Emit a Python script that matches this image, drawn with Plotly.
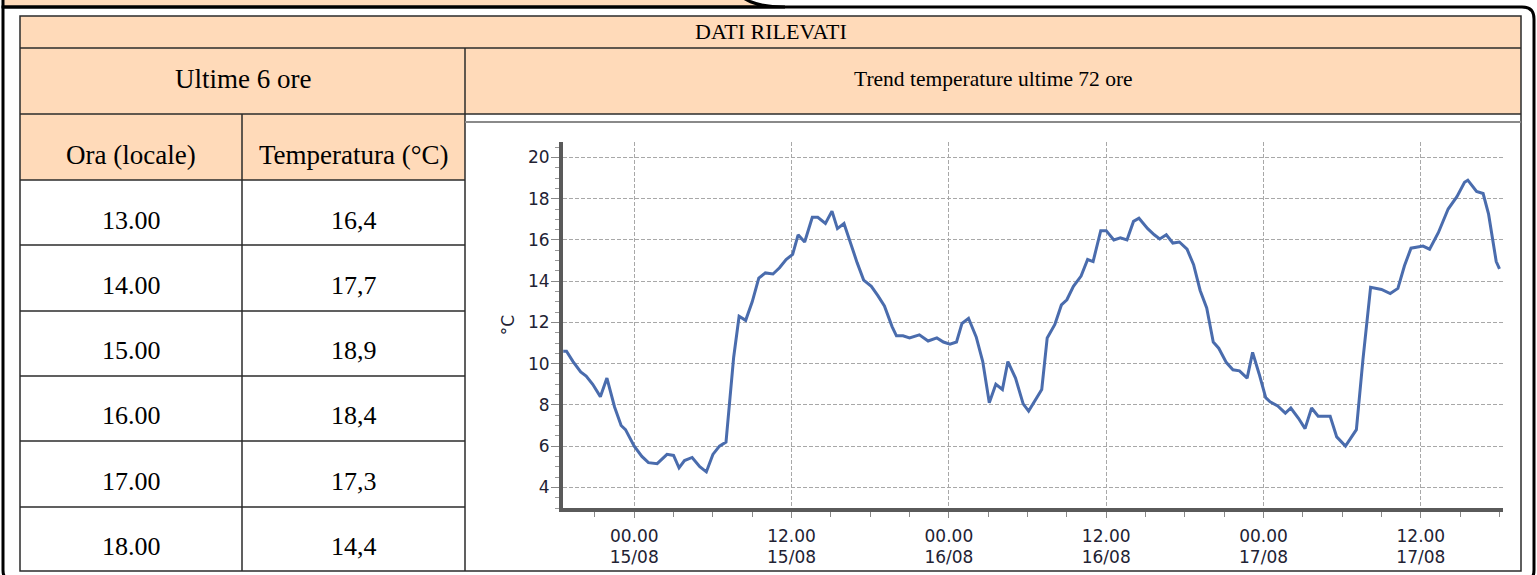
import plotly.graph_objects as go

# ---------------- data ----------------
hours_local = ["13.00", "14.00", "15.00", "16.00", "17.00", "18.00"]
temps_local = ["16,4", "17,7", "18,9", "18,4", "17,3", "14,4"]

times = [
    "2023-08-14 18:35", "2023-08-14 18:50", "2023-08-14 19:20", "2023-08-14 19:55", "2023-08-14 20:20",
    "2023-08-14 20:50", "2023-08-14 21:25", "2023-08-14 21:55", "2023-08-14 22:30", "2023-08-14 23:00",
    "2023-08-14 23:20", "2023-08-15 00:00", "2023-08-15 00:35", "2023-08-15 01:05", "2023-08-15 01:45",
    "2023-08-15 02:05", "2023-08-15 02:30", "2023-08-15 03:00", "2023-08-15 03:25", "2023-08-15 03:50",
    "2023-08-15 04:25", "2023-08-15 05:00", "2023-08-15 05:30", "2023-08-15 06:00", "2023-08-15 06:30",
    "2023-08-15 07:00", "2023-08-15 07:20", "2023-08-15 07:35", "2023-08-15 08:00", "2023-08-15 08:30",
    "2023-08-15 09:00", "2023-08-15 09:30", "2023-08-15 10:00", "2023-08-15 10:35", "2023-08-15 11:05",
    "2023-08-15 11:35", "2023-08-15 12:05", "2023-08-15 12:30", "2023-08-15 13:00", "2023-08-15 13:35",
    "2023-08-15 14:00", "2023-08-15 14:35", "2023-08-15 15:05", "2023-08-15 15:30", "2023-08-15 16:00",
    "2023-08-15 16:30", "2023-08-15 17:00", "2023-08-15 17:30", "2023-08-15 18:05", "2023-08-15 18:35",
    "2023-08-15 19:05", "2023-08-15 19:40", "2023-08-15 20:00", "2023-08-15 20:30", "2023-08-15 21:00",
    "2023-08-15 21:45", "2023-08-15 22:25", "2023-08-15 23:05", "2023-08-15 23:35", "2023-08-16 00:05",
    "2023-08-16 00:35", "2023-08-16 01:00", "2023-08-16 01:30", "2023-08-16 02:05", "2023-08-16 02:35",
    "2023-08-16 03:05", "2023-08-16 03:35", "2023-08-16 04:05", "2023-08-16 04:30", "2023-08-16 05:05",
    "2023-08-16 05:40", "2023-08-16 06:05", "2023-08-16 06:35", "2023-08-16 07:05", "2023-08-16 07:30",
    "2023-08-16 08:05", "2023-08-16 08:35", "2023-08-16 09:00", "2023-08-16 09:30", "2023-08-16 10:05",
    "2023-08-16 10:35", "2023-08-16 11:00", "2023-08-16 11:35", "2023-08-16 12:00", "2023-08-16 12:35",
    "2023-08-16 13:05", "2023-08-16 13:35", "2023-08-16 14:05", "2023-08-16 14:30", "2023-08-16 15:10",
    "2023-08-16 15:40", "2023-08-16 16:05", "2023-08-16 16:35", "2023-08-16 17:05", "2023-08-16 17:35",
    "2023-08-16 18:10", "2023-08-16 18:40", "2023-08-16 19:10", "2023-08-16 19:40", "2023-08-16 20:10",
    "2023-08-16 20:35", "2023-08-16 21:10", "2023-08-16 21:40", "2023-08-16 22:10", "2023-08-16 22:45",
    "2023-08-16 23:10", "2023-08-16 23:40", "2023-08-17 00:10", "2023-08-17 00:30", "2023-08-17 01:05",
    "2023-08-17 01:40", "2023-08-17 02:05", "2023-08-17 02:40", "2023-08-17 03:10", "2023-08-17 03:40",
    "2023-08-17 04:10", "2023-08-17 05:05", "2023-08-17 05:35", "2023-08-17 06:15", "2023-08-17 07:05",
    "2023-08-17 07:35", "2023-08-17 08:10", "2023-08-17 09:00", "2023-08-17 09:40", "2023-08-17 10:15",
    "2023-08-17 10:45", "2023-08-17 11:15", "2023-08-17 11:55", "2023-08-17 12:10", "2023-08-17 12:40",
    "2023-08-17 13:20", "2023-08-17 14:05", "2023-08-17 14:45", "2023-08-17 15:20", "2023-08-17 15:35",
    "2023-08-17 16:15", "2023-08-17 16:45", "2023-08-17 17:10", "2023-08-17 17:45", "2023-08-17 18:00",
]
temps = [
    10.6, 10.6, 10.1, 9.6, 9.4,
    9.0, 8.4, 9.3, 7.9, 7.0,
    6.8, 6.0, 5.5, 5.2, 5.15,
    5.35, 5.6, 5.55, 4.95, 5.3,
    5.45, 5.0, 4.75, 5.6, 6.0,
    6.2, 8.7, 10.3, 12.3, 12.1,
    13.0, 14.15, 14.4, 14.35, 14.65,
    15.05, 15.3, 16.25, 15.9, 17.1,
    17.1, 16.8, 17.4, 16.55, 16.8,
    15.8, 14.9, 14.05, 13.75, 13.3,
    12.8, 11.8, 11.35, 11.35, 11.25,
    11.4, 11.1, 11.25, 11.05, 10.95,
    11.05, 11.95, 12.2, 11.3, 10.1,
    8.1, 9.0, 8.75, 10.1, 9.3,
    8.05, 7.7, 8.2, 8.75, 11.25,
    11.9, 12.85, 13.1, 13.75, 14.25,
    15.05, 14.95, 16.45, 16.45, 16.0,
    16.1, 16.0, 16.9, 17.05, 16.55,
    16.25, 16.05, 16.25, 15.85, 15.9,
    15.55, 14.8, 13.55, 12.7, 11.05,
    10.75, 10.05, 9.7, 9.65, 9.3,
    10.55, 9.5, 8.35, 8.15, 7.95,
    7.6, 7.85, 7.35, 6.85, 7.85,
    7.45, 7.45, 6.45, 6.0, 6.8,
    10.2, 13.7, 13.6, 13.4, 13.65,
    14.75, 15.6, 15.65, 15.7, 15.55,
    16.35, 17.5, 18.1, 18.8, 18.9,
    18.35, 18.25, 17.25, 14.95, 14.6,
]

# ---------------- geometry helpers (pixel -> paper) ----------------
W, H = 1537, 575
def X(px):
    return px / W
def Y(py):
    return 1 - py / H

PEACH = "#FFDAB9"
LINE = "#2b2b2b"
SERIF = "Liberation Serif, Times New Roman, serif"

shapes = []
annotations = []

def rect(x0, y0, x1, y1, fill=None, color=None, width=0, layer="below"):
    d = dict(type="rect", xref="paper", yref="paper",
             x0=X(x0), x1=X(x1), y0=Y(y1), y1=Y(y0), layer=layer,
             line=dict(width=width, color=color or "rgba(0,0,0,0)"))
    if fill:
        d["fillcolor"] = fill
    shapes.append(d)

def hline(x0, x1, y, color=LINE, width=1.5):
    shapes.append(dict(type="line", xref="paper", yref="paper",
                       x0=X(x0), x1=X(x1), y0=Y(y), y1=Y(y),
                       line=dict(color=color, width=width)))

def vline(x, y0, y1, color=LINE, width=1.5):
    shapes.append(dict(type="line", xref="paper", yref="paper",
                       x0=X(x), x1=X(x), y0=Y(y0), y1=Y(y1),
                       line=dict(color=color, width=width)))

def P(x, y):
    return f"{X(x):.5f},{Y(y):.5f}"

# top tab (peach) above the frame
shapes.append(dict(type="path", xref="paper", yref="paper", layer="below",
                   path=f"M {P(3,-20)} L {P(3,7)} L {P(785,7)} C {P(755,7)} {P(745,2)} {P(720,-20)} Z",
                   fillcolor=PEACH, line=dict(color="black", width=3)))
# outer rounded frame
r = 12
shapes.append(dict(type="path", xref="paper", yref="paper",
                   path=(f"M {P(3,7)} L {P(1534-r,7)} Q {P(1534,7)} {P(1534,7+r)} "
                         f"L {P(1534,582-r)} Q {P(1534,582)} {P(1534-r,582)} "
                         f"L {P(3+r,582)} Q {P(3,582)} {P(3,582-r)} Z"),
                   line=dict(color="black", width=3)))

# table geometry
TL, TR, TM, TC = 20, 1521, 465, 242
TT = 16
R1, R2, R3 = 48, 114, 180
row_edges = [180, 245, 311, 376, 441, 507, 571]
TB = 571

rect(TL, TT, TR, R1, fill=PEACH)
rect(TL, R1, TR, R2, fill=PEACH)
rect(TL, R2, TM, R3, fill=PEACH)

# table lines
rect(TL, TT, TR, TB, color=LINE, width=1.5, layer="above")
hline(TL, TR, R1)
hline(TL, TR, R2)
for yy in row_edges[:-1]:
    hline(TL, TM, yy)
vline(TM, R1, TB)
vline(TC, R2, TB)
# chart picture frame (top gray edge)
hline(TM, TR, 122, color="#8a8a8a", width=2)

def text(x, y, s, size):
    annotations.append(dict(xref="paper", yref="paper", x=X(x), y=Y(y), text=s,
                            showarrow=False, xanchor="center", yanchor="middle",
                            font=dict(family=SERIF, size=size, color="black")))

text((TL + TR) / 2, 32, "DATI RILEVATI", 22)
text((TL + TM) / 2, 79, "Ultime 6 ore", 27)
text((TM + TR) / 2, 79, "Trend temperature ultime 72 ore", 21.5)
text((TL + TC) / 2, 155, "Ora (locale)", 27)
text((TC + TM) / 2, 155, "Temperatura (°C)", 27)
row_text_y = [220, 285, 350, 415, 481, 546]
for i in range(6):
    text((TL + TC) / 2, row_text_y[i], hours_local[i], 26)
    text((TC + TM) / 2, row_text_y[i], temps_local[i], 26)

# ---------------- chart ----------------
AX_FONT = dict(family="DejaVu Sans, Verdana, sans-serif", size=17, color="#222233")
GRID = "#a8a8a8"
xr = ["2023-08-14 18:34", "2023-08-17 18:16"]

fig = go.Figure()
fig.add_trace(go.Scatter(x=times, y=temps, mode="lines",
                         line=dict(color="#4a6cad", width=3), showlegend=False,
                         hoverinfo="x+y"))
fig.add_trace(go.Scatter(x=[times[0]], y=[temps[0]], xaxis="x2", mode="markers",
                         marker=dict(opacity=0), showlegend=False, hoverinfo="skip"))

fig.update_layout(
    width=W, height=H,
    margin=dict(l=0, r=0, t=0, b=0),
    paper_bgcolor="white", plot_bgcolor="white",
    shapes=shapes, annotations=annotations,
    xaxis=dict(
        domain=[X(563), X(1503)], anchor="y", type="date", range=xr,
        tick0="2023-08-15 00:00", dtick=12 * 3600 * 1000, tickformat="%H.%M",
        ticks="outside", ticklen=6, tickcolor="#888", tickwidth=1,
        ticklabelstandoff=4,
        minor=dict(dtick=3 * 3600 * 1000, ticks="outside", ticklen=5, tickcolor="#888", showgrid=False),
        showgrid=True, gridcolor=GRID, gridwidth=1, griddash="4px,2px",
        showline=True, linecolor="#5a5a5a", linewidth=4,
        tickfont=AX_FONT, fixedrange=True,
    ),
    xaxis2=dict(
        domain=[X(563), X(1503)], anchor="free", position=Y(517), overlaying="x", side="bottom",
        type="date", range=xr, tick0="2023-08-15 00:00", dtick=12 * 3600 * 1000,
        tickformat="%d/%m", ticks="", showgrid=False, showline=False, zeroline=False,
        ticklabelstandoff=28, tickfont=AX_FONT, fixedrange=True,
    ),
    yaxis=dict(
        domain=[Y(508), Y(142)], anchor="x", range=[3, 20.75],
        tick0=0, dtick=2, ticks="outside", ticklen=8, tickcolor="#888", tickwidth=1,
        ticklabelstandoff=-2,
        minor=dict(dtick=0.5, ticks="outside", ticklen=4, tickcolor="#999", showgrid=False),
        showgrid=True, gridcolor=GRID, gridwidth=1, griddash="4px,2px", zeroline=False,
        showline=True, linecolor="#5a5a5a", linewidth=4,
        tickfont=AX_FONT, fixedrange=True,
        title=dict(text="°C", font=AX_FONT, standoff=10),
    ),
)

fig.write_html("out.html", config={"displayModeBar": False},
               post_script="document.body.style.margin='0px';document.body.style.overflow='hidden';")
